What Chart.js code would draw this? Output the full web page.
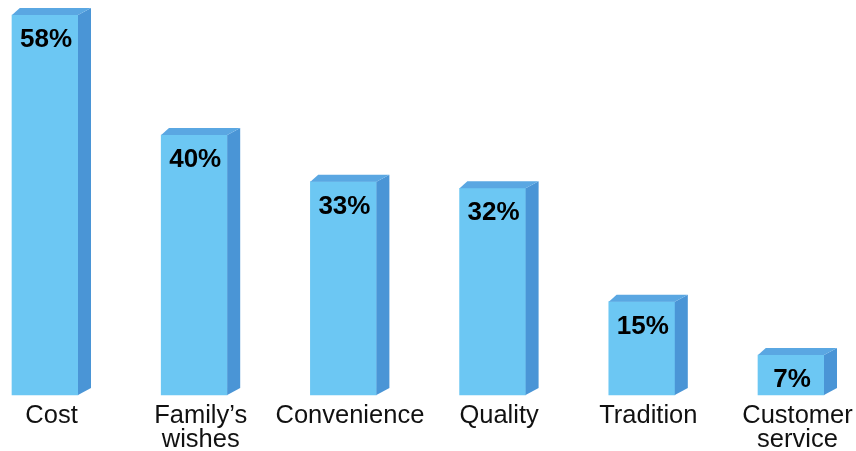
<!DOCTYPE html>
<html>
<head>
<meta charset="utf-8">
<script src="https://cdn.jsdelivr.net/npm/chart.js@4/dist/chart.umd.min.js"></script>
<style>
  html, body { margin: 0; padding: 0; background: #fff; }
  #wrap { width: 856px; height: 451px; }
</style>
</head>
<body>
<div id="wrap"><canvas id="myChart" width="856" height="451"></canvas></div>
<script>
// survey answers and their shares (%)
var categories = [["Cost"], ["Family\u2019s", "wishes"], ["Convenience"], ["Quality"], ["Tradition"], ["Customer", "service"]];
var shares = [58, 40, 33, 32, 15, 7];

var DEPTH_X = 13, DEPTH_Y = 7;
var FONT = "'Liberation Sans', Arial, Helvetica, sans-serif";

// side + top faces so the flat bars look like boxes, then the labels
var boxPlugin = {
  id: 'box3d',
  afterDatasetsDraw: function (chart) {
    var ctx = chart.ctx;
    var meta = chart.getDatasetMeta(0);
    meta.data.forEach(function (bar, i) {
      var l = bar.x - bar.width / 2, r = bar.x + bar.width / 2;
      var t = bar.y, b = bar.base;
      ctx.save();
      // right side
      ctx.fillStyle = '#4a95d6';
      ctx.beginPath();
      ctx.moveTo(r, t);
      ctx.lineTo(r + DEPTH_X, t - DEPTH_Y);
      ctx.lineTo(r + DEPTH_X, b - DEPTH_Y);
      ctx.lineTo(r, b);
      ctx.closePath();
      ctx.fill();
      // top
      ctx.fillStyle = '#5aa7e2';
      ctx.beginPath();
      ctx.moveTo(l, t);
      ctx.lineTo(l + DEPTH_X * 0.6, t - DEPTH_Y);
      ctx.lineTo(r + DEPTH_X, t - DEPTH_Y);
      ctx.lineTo(r, t);
      ctx.closePath();
      ctx.fill();
      // value inside the bar
      ctx.fillStyle = '#000';
      ctx.font = 'bold 26px ' + FONT;
      ctx.textAlign = 'center';
      ctx.textBaseline = 'alphabetic';
      ctx.fillText(shares[i] + '%', bar.x + 1, t + 32);
      ctx.restore();
    });

    // category names under each box
    var xs = chart.scales.x;
    ctx.save();
    ctx.fillStyle = '#111';
    ctx.font = '25.5px ' + FONT;
    ctx.textAlign = 'center';
    ctx.textBaseline = 'alphabetic';
    categories.forEach(function (lines, i) {
      var cx = xs.getPixelForValue(i) + DEPTH_X / 2;
      lines.forEach(function (txt, k) {
        ctx.fillText(txt, cx, 423 + k * 24);
      });
    });
    ctx.restore();
  }
};

new Chart(document.getElementById('myChart'), {
  type: 'bar',
  data: {
    labels: categories,
    datasets: [{
      data: shares,
      base: 1,
      backgroundColor: '#6cc7f3',
      borderWidth: 0,
      barThickness: 66,
      clip: false
    }]
  },
  options: {
    responsive: false,
    animation: false,
    layout: { padding: { left: 45, right: 65, top: 15, bottom: 56 } },
    plugins: {
      legend: { display: false },
      tooltip: { enabled: false }
    },
    scales: {
      x: { display: false, offset: false },
      y: { display: false, min: 1, max: 58 }
    }
  },
  plugins: [boxPlugin]
});
</script>
</body>
</html>
